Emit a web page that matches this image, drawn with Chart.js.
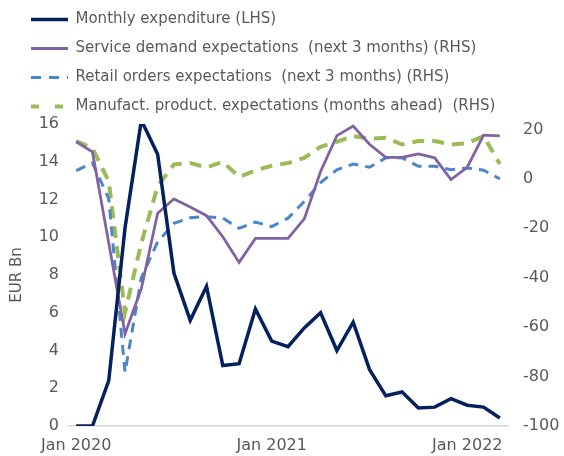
<!DOCTYPE html>
<html>
<head>
<meta charset="utf-8">
<script src="https://cdn.jsdelivr.net/npm/chart.js@4/dist/chart.umd.min.js"></script>
<style>
  html, body { margin: 0; padding: 0; background: #fff; }
  #wrap { width: 564px; height: 456px; }
</style>
</head>
<body>
<div id="wrap"><canvas id="chart" width="564" height="456"></canvas></div>
<script>
// colori
const colors = {
  navy: "#04215e",
  purple: "#8064a2",
  blue: "#4a86c8",
  green: "#9bbb59",
  text: "#595959",
  axis: "#d9d9d9",
};

// mesi (Jan 2020 - Mar 2022)
const months = [
  "Jan 2020", "Feb 2020", "Mar 2020", "Apr 2020", "May 2020", "Jun 2020",
  "Jul 2020", "Aug 2020", "Sep 2020", "Oct 2020", "Nov 2020", "Dec 2020",
  "Jan 2021", "Feb 2021", "Mar 2021", "Apr 2021", "May 2021", "Jun 2021",
  "Jul 2021", "Aug 2021", "Sep 2021", "Oct 2021", "Nov 2021", "Dec 2021",
  "Jan 2022", "Feb 2022", "Mar 2022",
];

// EUR Bn (LHS)
const expenditure = [0, 0, 2.4, 10.5, 16.2, 14.4, 8.1, 5.6, 7.4, 3.2, 3.3, 6.2, 4.5, 4.2,
  5.2, 6.0, 4.0, 5.5, 3.0, 1.6, 1.8, 0.95, 1.0, 1.45, 1.1, 1.0, 0.42];

// saldi (RHS)
const serviceDemand = [15.0, 10.9, -26, -62.7, -44.4, -13.9, -8.1, -11.4, -14.9, -23.4, -33.8,
  -24.1, -24.1, -24.1, -16.2, 3, 17.5, 21.4, 14.0, 8.7, 8.7, 10.1, 8.5, -0.3, 4.7, 17.7, 17.4];
const retailOrders = [3.3, 6.4, -8, -78.3, -40, -25.5, -18, -15.7, -15.3, -15.9, -20, -17.5,
  -19.3, -15.9, -9.2, -1.5, 3.7, 6.0, 4.7, 8.5, 8.5, 5.1, 5.1, 3.7, 4.4, 3.5, 0];
const manufProduction = [15.3, 12.5, -1, -54, -26, -3, 5.8, 6.4, 4.6, 6.9, 0.8, 3.4, 5.3, 6.4,
  8.5, 13, 15, 17.3, 16.3, 16.6, 13.9, 15.3, 15.3, 13.9, 14.4, 17.3, 6];

const leftTicks = [0, 2, 4, 6, 8, 10, 12, 14, 16];
const rightTicks = [-100, -80, -60, -40, -20, 0, 20];
const xTickLabels = ["Jan 2020", "Jan 2021", "Jan 2022"];

const legendFont = { family: "'DejaVu Sans', Verdana, sans-serif", size: 15 };
const tickFont = { family: "'DejaVu Sans', Verdana, sans-serif", size: 16 };

// tratteggi della legenda
const legendDash = [[], [], [10, 8], [8, 16]];

// sposta la legenda a destra (come nell'originale)
const shiftLegend = {
  id: "shiftLegend",
  afterLayout(chart) {
    chart.legend.left += 9;
    chart.legend.right += 9;
  },
};

const ctx = document.getElementById("chart").getContext("2d");
new Chart(ctx, {
  type: "line",
  data: {
    labels: months,
    datasets: [
      {
        label: "Monthly expenditure (LHS)",
        data: expenditure,
        yAxisID: "y",
        borderColor: colors.navy,
        backgroundColor: colors.navy,
        borderWidth: 3.5,
      },
      {
        label: "Service demand expectations  (next 3 months) (RHS)",
        data: serviceDemand,
        yAxisID: "y1",
        borderColor: colors.purple,
        backgroundColor: colors.purple,
        borderWidth: 2.8,
      },
      {
        label: "Retail orders expectations  (next 3 months) (RHS)",
        data: retailOrders,
        yAxisID: "y1",
        borderColor: colors.blue,
        backgroundColor: colors.blue,
        borderWidth: 3,
        borderDash: [10, 7],
      },
      {
        label: "Manufact. product. expectations (months ahead)  (RHS)",
        data: manufProduction,
        yAxisID: "y1",
        borderColor: colors.green,
        backgroundColor: colors.green,
        borderWidth: 4,
        borderDash: [12, 8],
      },
    ],
  },
  options: {
    responsive: false,
    animation: false,
    elements: {
      point: { radius: 0 },
      line: { tension: 0, borderCapStyle: "butt", borderJoinStyle: "miter" },
    },
    layout: { padding: { left: 8, right: 0, top: -2, bottom: 3 } },
    plugins: {
      tooltip: { enabled: false },
      legend: {
        position: "top",
        align: "start",
        labels: {
          color: colors.text,
          font: legendFont,
          usePointStyle: true,
          pointStyle: "line",
          pointStyleWidth: 37,
          boxWidth: 37,
          boxHeight: 4,
          padding: 14,
          generateLabels: (chart) => {
            const items = Chart.defaults.plugins.legend.labels.generateLabels(chart);
            return items.map((item, i) => {
              const ds = chart.data.datasets[item.datasetIndex];
              item.lineDash = legendDash[i];
              item.lineWidth = ds.borderWidth;
              item.strokeStyle = ds.borderColor;
              item.lineCap = "butt";
              return item;
            });
          },
        },
      },
    },
    scales: {
      x: {
        offset: true,
        grid: { display: false, drawTicks: false },
        border: { display: true, color: colors.axis, width: 1.5 },
        afterFit: (axis) => { axis.height = 27; },
        ticks: {
          color: colors.text,
          font: tickFont,
          padding: 10,
          autoSkip: false,
          maxRotation: 0,
          callback: function (value, index) {
            const label = months[index];
            return xTickLabels.includes(label) ? label : "";
          },
        },
      },
      y: {
        position: "left",
        min: 0,
        max: 16,
        grid: { display: false, drawTicks: false },
        border: { display: false },
        afterBuildTicks: (axis) => { axis.ticks = leftTicks.map((v) => ({ value: v })); },
        afterFit: (axis) => { axis.width = 60; },
        ticks: { color: colors.text, font: tickFont, padding: 9 },
        title: {
          display: true,
          text: "EUR Bn",
          color: colors.text,
          font: legendFont,
          padding: { top: 0, bottom: 0 },
        },
      },
      y1: {
        position: "right",
        min: -100,
        max: 22.2,
        grid: { display: false, drawTicks: false },
        border: { display: false },
        afterBuildTicks: (axis) => { axis.ticks = rightTicks.map((v) => ({ value: v })); },
        afterFit: (axis) => { axis.width = 56; },
        ticks: { color: colors.text, font: tickFont, padding: 15 },
      },
    },
  },
  plugins: [shiftLegend],
});
</script>
</body>
</html>
